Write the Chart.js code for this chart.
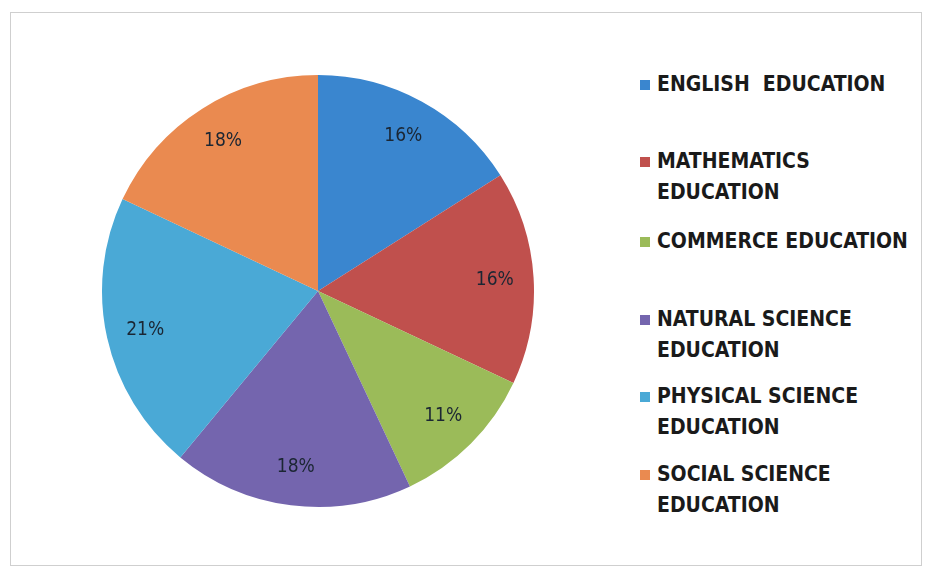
<!DOCTYPE html>
<html>
<head>
<meta charset="utf-8">
<script src="https://cdn.jsdelivr.net/npm/chart.js@4"></script>
<style>
  body { margin: 0; background: #fff; width: 928px; height: 571px; overflow: hidden; position: relative; }
  #frame { position: absolute; left: 10px; top: 12px; width: 910px; height: 552px; border: 1px solid #cfcfcf; }
  #pieBox { position: absolute; left: 100px; top: 73px; width: 436px; height: 436px; }
  .item { position: absolute; left: 640px; font-family: "DejaVu Sans Condensed", sans-serif;
          font-weight: bold; font-size: 21px; line-height: 31px; color: #1a1a1a; white-space: nowrap; }
  .item .box { position: absolute; left: 0; top: 11px; width: 10px; height: 10px; }
  .item .txt { margin-left: 17px; }
</style>
</head>
<body>
<div id="frame"></div>
<div id="pieBox"><canvas id="pie"></canvas></div>
<div id="legend"></div>
<script>
var labels = ["ENGLISH  EDUCATION", "MATHEMATICS EDUCATION", "COMMERCE EDUCATION",
              "NATURAL SCIENCE EDUCATION", "PHYSICAL SCIENCE EDUCATION", "SOCIAL SCIENCE EDUCATION"];
var legendLines = [["ENGLISH&nbsp; EDUCATION"], ["MATHEMATICS", "EDUCATION"], ["COMMERCE EDUCATION"],
                   ["NATURAL SCIENCE", "EDUCATION"], ["PHYSICAL SCIENCE", "EDUCATION"], ["SOCIAL SCIENCE", "EDUCATION"]];
var percents = [16, 16, 11, 18, 21, 18];
var colors = ["#3a86cf", "#c0504d", "#9bbb59", "#7465ae", "#4aa9d6", "#ea8a50"];

// legend tops (layout only)
var legendTop = [69, 146, 226, 304, 381, 459];

var legendDiv = document.getElementById('legend');
for (var i = 0; i < labels.length; i++) {
  var d = document.createElement('div');
  d.className = 'item';
  d.style.top = legendTop[i] + 'px';
  d.innerHTML = '<span class="box" style="background:' + colors[i] + '"></span><div class="txt">' +
    legendLines[i].join('<br>') + '</div>';
  legendDiv.appendChild(d);
}

var pctLabels = {
  id: 'pctLabels',
  afterDatasetsDraw: function(chart) {
    var ctx = chart.ctx;
    var meta = chart.getDatasetMeta(0);
    ctx.save();
    ctx.font = '19px "DejaVu Sans Condensed", sans-serif';
    ctx.fillStyle = '#1b2633';
    ctx.textAlign = 'center';
    ctx.textBaseline = 'middle';
    meta.data.forEach(function(arc, i) {
      var mid = (arc.startAngle + arc.endAngle) / 2;
      var r = arc.outerRadius * 0.82;
      ctx.fillText(percents[i] + '%', arc.x + Math.cos(mid) * r, arc.y + Math.sin(mid) * r);
    });
    ctx.restore();
  }
};

var ctx1 = document.getElementById("pie");
var myChart1 = new Chart(ctx1, {
  type: 'pie',
  data: {
    labels: labels,
    datasets: [{
      data: percents,
      backgroundColor: colors,
      borderWidth: 0
    }]
  },
  options: {
    responsive: true,
    maintainAspectRatio: false,
    animation: false,
    layout: { padding: 2 },
    plugins: {
      legend: { display: false },
      tooltip: { enabled: false }
    }
  },
  plugins: [pctLabels]
});
</script>
</body>
</html>
